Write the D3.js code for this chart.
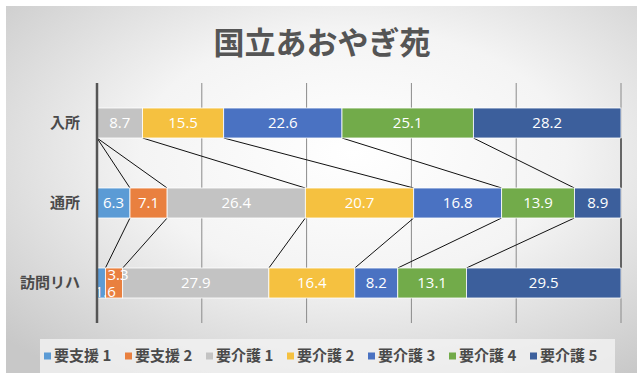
<!DOCTYPE html>
<html>
<head>
<meta charset="utf-8">
<script src="https://cdn.jsdelivr.net/npm/d3@7/dist/d3.min.js"></script>
<style>
  body { margin: 0; background: #fff; }
  svg { display: block; }
</style>
</head>
<body>
<div id="chart"></div>
<script>
// chart size
var width = 643,
    height = 379;

// data
var categories = ["入所", "通所", "訪問リハ"];
var seriesNames = ["要支援 1", "要支援 2", "要介護 1", "要介護 2", "要介護 3", "要介護 4", "要介護 5"];
var nyusho = [0, 0, 8.7, 15.5, 22.6, 25.1, 28.2];
var tsusho = [6.3, 7.1, 26.4, 20.7, 16.8, 13.9, 8.9];
var houmon = [1.6, 3.3, 27.9, 16.4, 8.2, 13.1, 29.5];
var gridTicks = [0, 20, 40, 60, 80, 100];
var colors = ["#5b9bd5", "#e9803f", "#c3c3c3", "#f5c140", "#4a72c2", "#72ab4a", "#3c5f9c"];

var rows = [nyusho, tsusho, houmon];

var svg = d3.select("#chart").append("svg")
    .attr("width", width)
    .attr("height", height);

// background gradient (photo of a printed chart)
var defs = svg.append("defs");
var grad = defs.append("radialGradient")
    .attr("id", "bg")
    .attr("cx", "55%").attr("cy", "40%").attr("r", "75%");
grad.append("stop").attr("offset", "0%").attr("stop-color", "#ffffff");
grad.append("stop").attr("offset", "45%").attr("stop-color", "#f4f4f4");
grad.append("stop").attr("offset", "100%").attr("stop-color", "#c8c8c8");

svg.append("rect")
    .attr("x", 6).attr("y", 6)
    .attr("width", width - 12).attr("height", height - 12)
    .attr("fill", "url(#bg)");

// scales
var x = d3.scaleLinear()
    .domain([0, 100])
    .range([97, 621]);

var y = d3.scaleBand()
    .domain(categories)
    .range([83, 323])
    .paddingInner(0.625)
    .paddingOuter(0.3125);

// stacked percentages (100% stacked, normalised by row sum)
var stacked = rows.map(function(r, ci) {
    var total = d3.sum(r), acc = 0;
    return r.map(function(v, si) {
        var p = v / total * 100;
        var seg = { cat: categories[ci], s: si, v: v, x0: acc, x1: acc + p };
        acc += p;
        return seg;
    });
});

// gridlines
svg.append("g")
    .selectAll("line")
    .data(gridTicks.slice(1))
    .enter()
    .append("line")
    .attr("x1", function(d) { return x(d); })
    .attr("x2", function(d) { return x(d); })
    .attr("y1", 83)
    .attr("y2", 323)
    .attr("stroke", "#8a8a8a")
    .attr("stroke-width", 1);

// series lines between bars
var sl = svg.append("g");
for (var c = 0; c < stacked.length - 1; c++) {
    for (var s = 0; s < seriesNames.length; s++) {
        var a = stacked[c][s], b = stacked[c + 1][s];
        sl.append("line")
            .attr("x1", x(a.x1))
            .attr("y1", y(a.cat) + y.bandwidth())
            .attr("x2", x(b.x1))
            .attr("y2", y(b.cat))
            .attr("stroke", "#111")
            .attr("stroke-width", 1);
    }
}

// bars
var bars = svg.append("g");
stacked.forEach(function(row) {
    bars.selectAll(null)
        .data(row.filter(function(d) { return d.v > 0; }))
        .enter()
        .append("rect")
        .attr("x", function(d) { return x(d.x0); })
        .attr("y", function(d) { return y(d.cat); })
        .attr("width", function(d) { return x(d.x1) - x(d.x0); })
        .attr("height", y.bandwidth())
        .attr("fill", function(d) { return colors[d.s]; })
        .attr("stroke", "#ffffff")
        .attr("stroke-width", 0.8);
});

// data labels (tiny segments get staggered up/down)
var labels = svg.append("g");
stacked.forEach(function(row) {
    labels.selectAll(null)
        .data(row.filter(function(d) { return d.v > 0; }))
        .enter()
        .append("text")
        .attr("x", function(d) {
            var w = x(d.x1) - x(d.x0);
            return w < 20 ? x(d.x0) + w / 2 + (d.s === 1 ? 4 : 4) : (x(d.x0) + x(d.x1)) / 2;
        })
        .attr("y", function(d) {
            var w = x(d.x1) - x(d.x0);
            var off = 0;
            if (w < 20) off = d.s === 0 ? 9 : -8;
            return y(d.cat) + y.bandwidth() / 2 + off;
        })
        .attr("dy", "0.36em")
        .attr("text-anchor", "middle")
        .attr("fill", "#ffffff")
        .attr("font-family", "'Open Sans', sans-serif")
        .attr("font-size", 15)
        .text(function(d) { return d.v.toFixed(1); });
});

// vertical axis line
svg.append("line")
    .attr("x1", x(0)).attr("x2", x(0))
    .attr("y1", 83).attr("y2", 323)
    .attr("stroke", "#555")
    .attr("stroke-width", 2.5);

// category labels
svg.append("g")
    .selectAll("text")
    .data(categories)
    .enter()
    .append("text")
    .attr("x", 80)
    .attr("y", function(d) { return y(d) + y.bandwidth() / 2; })
    .attr("dy", "0.36em")
    .attr("text-anchor", "end")
    .attr("fill", "#4a4a4a")
    .attr("font-family", "'Noto Sans CJK JP', sans-serif")
    .attr("font-weight", "bold")
    .attr("font-size", 15)
    .text(function(d) { return d; });

// title
svg.append("text")
    .attr("x", 322)
    .attr("y", 54)
    .attr("text-anchor", "middle")
    .attr("fill", "#555")
    .attr("font-family", "'Noto Sans CJK JP', sans-serif")
    .attr("font-weight", "bold")
    .attr("font-size", 31)
    .text("国立あおやぎ苑");

// legend
svg.append("rect")
    .attr("x", 40).attr("y", 339)
    .attr("width", 575).attr("height", 34)
    .attr("fill", "#f3f3f3")
    .attr("opacity", 0.8);

var legend = svg.append("g")
    .selectAll("g")
    .data(seriesNames)
    .enter()
    .append("g")
    .attr("transform", function(d, i) { return "translate(" + (44 + i * 81) + ",356)"; });

legend.append("rect")
    .attr("x", 0).attr("y", -3.5)
    .attr("width", 7).attr("height", 7)
    .attr("fill", function(d, i) { return colors[i]; });

legend.append("text")
    .attr("x", 10)
    .attr("dy", "0.36em")
    .attr("fill", "#4a4a4a")
    .attr("font-family", "'Noto Sans CJK JP', sans-serif")
    .attr("font-weight", "bold")
    .attr("font-size", 15)
    .text(function(d) { return d; });
</script>
</body>
</html>
